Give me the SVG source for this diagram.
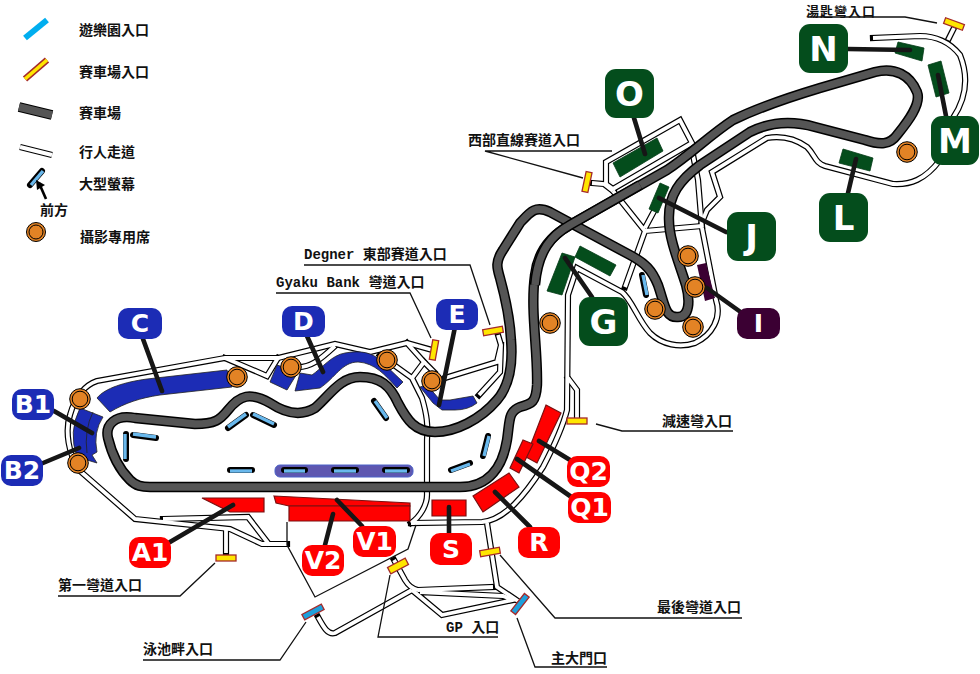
<svg xmlns="http://www.w3.org/2000/svg" width="980" height="674" viewBox="0 0 980 674">
<style>
text{font-family:"Noto Sans CJK TC","Noto Sans CJK SC",sans-serif;font-size:14px;font-weight:700;fill:#111}
.m{font-family:"Liberation Mono","Noto Sans CJK TC",monospace;font-weight:700;font-size:14px}
.lb text{font-family:"DejaVu Sans",sans-serif;font-weight:700;fill:#fff;text-anchor:middle;font-size:25px}
.lb.g text{font-size:34px}
.r{fill:#ff0000;stroke:#7a1010;stroke-width:1.2}
.bs{fill:#1c2cb5;stroke:#222;stroke-width:.8}
.gs{fill:#044d1c;stroke:#033a15;stroke-width:.8}
.thin{fill:none;stroke:#111;stroke-width:1.3}
.lead{fill:none;stroke:#161616;stroke-width:4.6}
.sk{stroke:#000;stroke-width:6;stroke-linecap:round}
.sb{stroke:#69b8ec;stroke-width:3.4}
.ph{fill:#e38325;stroke:#000;stroke-width:1}
.mk{stroke:#a52a2a;stroke-width:1.3}
.y{fill:#ffe600}.c{fill:#1ea0dc}
</style>
<defs>
<g id="wp" fill="none">
<path d="M287 544L262 544L230 529L135 519L80 471C68 455 65 430 70 415C75 397 85 385 97 381L225 358L278 358L335 344L370 352L407 343L432 350"/>
<path d="M225 358L267 376L278 358"/>
<path d="M335 346C320 360 310 368 296 367"/>
<path d="M380 355L412 378M407 343L424 362L412 378L422 398C427 415 428 425 427 440L427 495C427 505 420 517 411 523"/>
<path d="M424 362L434 372"/>
<path d="M498 335L501 345L497 362L445 378M501 345L500 372L479 395"/>
<path d="M411 523L482 522C505 520 525 495 543 467C553 448 562 430 567 410L568 295L577 268L622 292C632 300 638 320 650 333C662 345 680 348 695 343C712 335 722 318 716 300L702 228L698 180L692 150"/>
<path d="M568 378L577 390L577 418"/>
<path d="M645 231L702 226M613 191L645 231L625 287M645 228L660 200"/>
<path d="M592 183L604 184L613 191"/>
<path d="M606 184L606 162L680 120L692 143L613 189Z"/>
<path d="M702 222L707 210L720 197L712 172L767 138C785 135 797 140 807 147C815 155 815 163 825 166L893 184C910 185 925 180 940 160L953 118C965 100 970 80 960 55C950 42 935 36 920 36L873 38"/>
<path d="M948 40L954 28"/>
<path d="M226 530L226 553"/>
<path d="M163 519L248 517L268 543"/>
<path d="M394 560L405 580C408 585 412 589 418 590L493 587"/>
<path d="M412 590L335 633C328 635 324 628 318 617"/>
<path d="M412 590L442 615L513 600L503 596L420 592"/>
<path d="M487 523L497 587L518 601"/>
</g>
<path id="tk" fill="none" stroke-linejoin="round" d="M150 487L460 487C490 487 503 465 507 440C510 420 508 412 520 407C532 404 536 402 537 385C538 350 530 310 535 275C538 250 552 235 570 225L667 170C690 155 710 135 733 120C760 107 790 97 820 88L875 72C895 67 910 75 917 92C922 105 905 125 897 135C890 145 880 145 865 140L815 127C790 120 770 122 750 132L700 165C680 180 668 195 669 220C669 240 680 265 686 285C690 300 690 317 678 317C665 318 665 305 658 285C652 270 645 263 630 255L550 212C535 205 530 212 520 223L503 250C495 262 497 268 500 278C506 300 510 320 511 340C513 365 510 385 497 400C480 420 455 432 435 432C415 432 407 420 398 403C390 385 380 377 360 377C340 377 330 395 315 408C300 417 285 413 270 403C250 392 240 395 228 410C220 420 215 424 195 424L135 418C115 414 105 425 108 438C112 455 120 470 130 480C136 486 142 487 150 487Z"/>
<path id="br" fill="none" d="M535 285C538 250 552 235 570 225L640 185"/>
</defs>
<g id="legend">
<line x1="25" y1="38" x2="47" y2="20" stroke="#00aeef" stroke-width="6"/>
<line x1="25" y1="79" x2="47" y2="60" stroke="#a52a2a" stroke-width="6.5"/>
<line x1="25" y1="79" x2="47" y2="60" stroke="#ffe600" stroke-width="3.6"/>
<line x1="19" y1="107" x2="52" y2="115" stroke="#000" stroke-width="10"/>
<line x1="19" y1="107" x2="52" y2="115" stroke="#555" stroke-width="7.5"/>
<line x1="20" y1="147" x2="52" y2="155" stroke="#000" stroke-width="6.200"/>
<line x1="20" y1="147" x2="52" y2="155" stroke="#fff" stroke-width="4"/>
<line class="sk" x1="30" y1="185" x2="42" y2="171"/><line class="sb" x1="31" y1="185" x2="43" y2="171"/>
<path d="M46 199L39 183" stroke="#000" stroke-width="2.6" fill="none"/><path d="M36 180L45 185L37 190Z" fill="#000"/>
<circle class="ph" cx="36" cy="232" r="9.500"/><circle class="ph" cx="36" cy="232" r="7"/>
<text x="79" y="35">遊樂園入口</text>
<text x="79" y="77">賽車場入口</text>
<text x="79" y="118">賽車場</text>
<text x="79" y="157">行人走道</text>
<text x="79" y="189">大型螢幕</text>
<text x="40" y="215">前方</text>
<text x="80" y="242">攝影專用席</text>
</g>
<g id="walkways">
<use href="#wp" stroke="#000" stroke-width="6.200" stroke-linecap="square"/>
<use href="#wp" stroke="#fff" stroke-width="3.800"/>
<path class="thin" d="M287 522L287 545L315 597L408 549L416 525"/>
</g>
<g id="track">
<use href="#tk" stroke="#000" stroke-width="10.400"/>
<use href="#tk" stroke="#555" stroke-width="7.400"/>
<use href="#br" stroke="#000" stroke-width="10.400"/>
<use href="#br" stroke="#555" stroke-width="7.400"/>
</g>
<g id="stand-a1"><polygon class="r" points="202,498 264,498 264,512 230,512"/></g>
<g id="stand-v1"><polygon class="r" points="274,496 410,503 410,506 289,506 276,503"/></g>
<g id="stand-v2"><polygon class="r" points="289,506 410,506 410,521 289,521"/></g>
<g id="stand-s"><polygon class="r" points="432,500 466,500 466,516 432,516"/></g>
<g id="stand-r"><polygon class="r" points="473,496 509,473 519,487 483,512"/></g>
<g id="stand-q2"><polygon class="r" points="546,405 561,413 537,463 526,457"/></g>
<g id="stand-q1"><polygon class="r" points="523,440 533,444 519,473 510,468"/></g>
<g id="stand-c"><path class="bs" d="M97 398C105 388 125 382 147 379L227 370L232 387L160 395C140 398 125 403 110 412Z"/></g>
<g id="stand-b"><path class="bs" d="M80 408Q68 432 77 457L97 463L92 455L97 452Q93 432 103 417Z"/><path d="M93 412Q84 430 87 453" fill="none" stroke="#222" stroke-width=".8"/></g>
<g id="stand-d"><polygon class="bs" points="277,365 298,372 287,390 270,382"/><path class="bs" d="M300 373L312 375C322 368 332 355 345 353C362 350 372 353 380 360L403 382L397 388C385 375 375 363 358 362C342 362 335 378 320 388L295 391Z"/></g>
<g id="stand-e"><path class="bs" d="M420 387L427 385L440 400L450 400L473 396L477 403Q468 410 455 410L442 410L433 403Z"/></g>
<g id="stand-o"><polygon class="gs" points="613,163 657,138 663,151 620,177"/></g>
<g id="stand-j"><polygon class="gs" points="660,183 669,187 658,213 649,209"/></g>
<g id="stand-g"><polygon class="gs" points="562,253 575,257 562,295 547,291"/><polygon class="gs" points="580,246 616,265 610,276 575,257"/></g>
<g id="stand-i"><polygon points="697,265 706,263 715,298 705,301" fill="#3b0033"/></g>
<g id="stand-l"><polygon class="gs" points="843,149 873,158 870,171 839,163"/></g>
<g id="stand-m"><polygon class="gs" points="928,65 941,61 949,93 936,97"/></g>
<g id="stand-n"><polygon class="gs" points="898,42 924,48 922,61 895,53"/></g>
<g id="screens">
<rect x="275" y="465" width="138" height="12" rx="5" fill="#5e57b0" stroke="#4a62c8"/>
<line class="sk" x1="126" y1="434" x2="126" y2="459"/><line class="sb" x1="125" y1="434" x2="125" y2="459"/>
<line class="sk" x1="133" y1="435" x2="156" y2="438"/><line class="sb" x1="133" y1="434" x2="156" y2="437"/>
<line class="sk" x1="228" y1="428" x2="246" y2="415"/><line class="sb" x1="228" y1="427" x2="246" y2="414"/>
<line class="sk" x1="253" y1="415" x2="274" y2="425"/><line class="sb" x1="253" y1="414" x2="274" y2="424"/>
<line class="sk" x1="230" y1="470" x2="252" y2="470"/><line class="sb" x1="230" y1="471" x2="252" y2="471"/>
<line class="sk" x1="284" y1="470" x2="305" y2="470"/><line class="sb" x1="284" y1="471" x2="305" y2="471"/>
<line class="sk" x1="334" y1="470" x2="356" y2="470"/><line class="sb" x1="334" y1="471" x2="356" y2="471"/>
<line class="sk" x1="385" y1="470" x2="407" y2="470"/><line class="sb" x1="385" y1="471" x2="407" y2="471"/>
<line class="sk" x1="374" y1="401" x2="386" y2="418"/><line class="sb" x1="375" y1="401" x2="387" y2="418"/>
<line class="sk" x1="451" y1="470" x2="470" y2="463"/><line class="sb" x1="451" y1="471" x2="470" y2="464"/>
<line class="sk" x1="488" y1="436" x2="483" y2="456"/><line class="sb" x1="489" y1="436" x2="484" y2="456"/>
<line class="sk" x1="642" y1="275" x2="646" y2="295"/><line class="sb" x1="643" y1="275" x2="647" y2="295"/>
</g>
<g id="photo-spots">
<circle class="ph" cx="80" cy="399" r="10.300"/><circle class="ph" cx="80" cy="399" r="7.800"/>
<circle class="ph" cx="78" cy="463" r="10.300"/><circle class="ph" cx="78" cy="463" r="7.800"/>
<circle class="ph" cx="237" cy="377" r="10.300"/><circle class="ph" cx="237" cy="377" r="7.800"/>
<circle class="ph" cx="291" cy="367" r="10.300"/><circle class="ph" cx="291" cy="367" r="7.800"/>
<circle class="ph" cx="387" cy="360" r="10.300"/><circle class="ph" cx="387" cy="360" r="7.800"/>
<circle class="ph" cx="432" cy="381" r="10.300"/><circle class="ph" cx="432" cy="381" r="7.800"/>
<circle class="ph" cx="550" cy="323" r="10.300"/><circle class="ph" cx="550" cy="323" r="7.800"/>
<circle class="ph" cx="688" cy="256" r="10.300"/><circle class="ph" cx="688" cy="256" r="7.800"/>
<circle class="ph" cx="695" cy="287" r="10.300"/><circle class="ph" cx="695" cy="287" r="7.800"/>
<circle class="ph" cx="655" cy="309" r="10.300"/><circle class="ph" cx="655" cy="309" r="7.800"/>
<circle class="ph" cx="693" cy="327" r="10.300"/><circle class="ph" cx="693" cy="327" r="7.800"/>
<circle class="ph" cx="907" cy="152" r="10.300"/><circle class="ph" cx="907" cy="152" r="7.800"/>
</g>
<g id="connectors">
<path class="lead" stroke-linecap="round" d="M143 339L162 391M54 411L92 433M43 463L79 448M170 542L233 505M307 336L323 372M455 327L439 405M325 545L333 514M362 526L337 500M449 533L449 507M530 527L495 492M570 496L517 459M570 460L539 441M592 297L565 258M726 232L659 198M742 313L707 288M848 193L856 159M946 116L938 75M848 49L910 50M634 118L645 154"/>
<path class="thin" d="M58 596L180 596L215 563"/>
<path class="thin" d="M143 660L280 660L306 622"/>
<path class="thin" d="M390 575L378 637L498 637"/>
<path class="thin" d="M517 618L535 667L607 667"/>
<path class="thin" d="M500 555L555 618L742 618"/>
<path class="thin" d="M733 431L622 431L596 424"/>
<path class="thin" d="M304 265L470 265L490 325"/>
<path class="thin" d="M276 293L410 293L431 338"/>
<path class="thin" d="M612 151L485 151L583 178"/>
<path class="thin" d="M808 17L905 17L937 23"/>
</g>
<g id="entrances">
<rect class="mk y" x="-10" y="-3" width="20" height="6" transform="translate(226 558)"/>
<rect class="mk y" x="-10" y="-3.500" width="20" height="7" transform="translate(398 566) rotate(-28)"/>
<rect class="mk c" x="-11" y="-3" width="22" height="6" transform="translate(313 612) rotate(-28)"/>
<rect class="mk c" x="-11" y="-3" width="22" height="6" transform="translate(520 604) rotate(-52)"/>
<rect class="mk y" x="-10" y="-3" width="20" height="6" transform="translate(490 552) rotate(-10)"/>
<rect class="mk y" x="-10" y="-3" width="20" height="6" transform="translate(577 421)"/>
<rect class="mk y" x="-10" y="-3" width="20" height="6" transform="translate(493 331) rotate(-10)"/>
<rect class="mk y" x="-10" y="-3" width="20" height="6" transform="translate(434 350) rotate(-80)"/>
<rect class="mk y" x="-10" y="-3" width="20" height="6" transform="translate(587 182) rotate(-78)"/>
<rect class="mk y" x="-10" y="-3" width="20" height="6" transform="translate(954 24) rotate(20)"/>
</g>
<g id="entrance-labels">
<text x="58" y="590">第一彎道入口</text>
<text x="143" y="654">泳池畔入口</text>
<text x="446" y="632"><tspan class="m">GP </tspan>入口</text>
<text x="551" y="663">主大門口</text>
<text x="657" y="612">最後彎道入口</text>
<text x="662" y="426">減速彎入口</text>
<text x="304" y="259"><tspan class="m">Degner </tspan>東部賽道入口</text>
<text x="276" y="287"><tspan class="m">Gyaku Bank </tspan>彎道入口</text>
<text x="468" y="145">西部直線賽道入口</text>
<text x="806" y="15.500" style="font-size:13px;letter-spacing:1px">湯匙彎入口</text>
</g>
<g id="node-a1" class="lb"><rect x="129" y="537" width="42" height="31" rx="10" fill="#ff0000"/><text x="150" y="561">A1</text></g>
<g id="node-v2" class="lb"><rect x="302" y="545" width="42" height="31" rx="10" fill="#ff0000"/><text x="323" y="569">V2</text></g>
<g id="node-v1" class="lb"><rect x="353" y="526" width="43" height="31" rx="10" fill="#ff0000"/><text x="374.500" y="550">V1</text></g>
<g id="node-s" class="lb"><rect x="430" y="533" width="42" height="32" rx="10" fill="#ff0000"/><text x="451" y="558">S</text></g>
<g id="node-r" class="lb"><rect x="518" y="527" width="42" height="31" rx="10" fill="#ff0000"/><text x="539" y="551">R</text></g>
<g id="node-q1" class="lb"><rect x="568" y="492" width="43" height="31" rx="10" fill="#ff0000"/><text x="589.500" y="516">Q1</text></g>
<g id="node-q2" class="lb"><rect x="567" y="456" width="43" height="31" rx="10" fill="#ff0000"/><text x="588.500" y="480">Q2</text></g>
<g id="node-c" class="lb"><rect x="118" y="308" width="44" height="31" rx="10" fill="#1c2cb5"/><text x="140" y="332">C</text></g>
<g id="node-b1" class="lb"><rect x="12" y="389" width="42" height="31" rx="10" fill="#1c2cb5"/><text x="33" y="413">B1</text></g>
<g id="node-b2" class="lb"><rect x="1" y="455" width="42" height="31" rx="10" fill="#1c2cb5"/><text x="22" y="479">B2</text></g>
<g id="node-d" class="lb"><rect x="282" y="306" width="43" height="31" rx="10" fill="#1c2cb5"/><text x="303.500" y="330">D</text></g>
<g id="node-e" class="lb"><rect x="436" y="299" width="42" height="31" rx="10" fill="#1c2cb5"/><text x="457" y="323">E</text></g>
<g id="node-i" class="lb"><rect x="737" y="308" width="43" height="31" rx="10" fill="#3b0033"/><text x="758.500" y="332">I</text></g>
<g id="node-g" class="lb g"><rect x="579" y="297" width="49" height="49" rx="11" fill="#044d1c"/><text x="603.500" y="334">G</text></g>
<g id="node-j" class="lb g"><rect x="727" y="212" width="49" height="49" rx="11" fill="#044d1c"/><text x="751.500" y="249">J</text></g>
<g id="node-l" class="lb g"><rect x="819" y="193" width="49" height="49" rx="11" fill="#044d1c"/><text x="843.500" y="230">L</text></g>
<g id="node-m" class="lb g"><rect x="931" y="116" width="48" height="49" rx="11" fill="#044d1c"/><text x="955" y="153">M</text></g>
<g id="node-n" class="lb g"><rect x="799" y="24" width="49" height="49" rx="11" fill="#044d1c"/><text x="823.500" y="61">N</text></g>
<g id="node-o" class="lb g"><rect x="605" y="69" width="49" height="49" rx="11" fill="#044d1c"/><text x="629.500" y="106">O</text></g>
</svg>
